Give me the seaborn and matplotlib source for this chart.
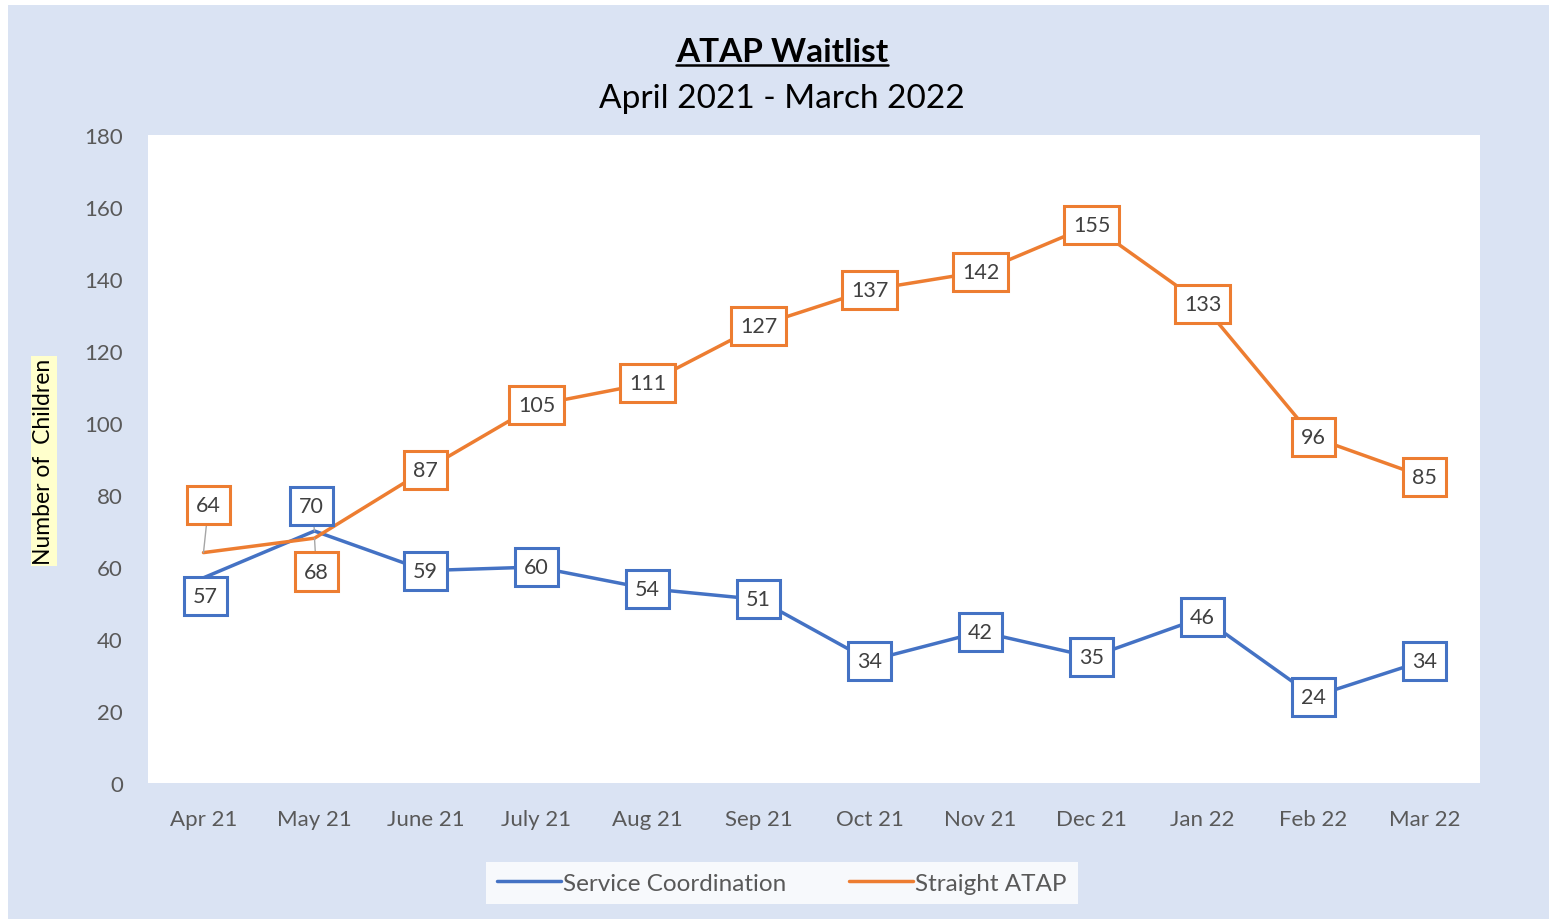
import matplotlib
matplotlib.use("Agg")
import matplotlib.pyplot as plt
from matplotlib.patches import Rectangle
from matplotlib.lines import Line2D
import seaborn as sns
import pandas as pd

months = ["Apr 21", "May 21", "June 21", "July 21", "Aug 21", "Sep 21",
          "Oct 21", "Nov 21", "Dec 21", "Jan 22", "Feb 22", "Mar 22"]
service_coord = [57, 70, 59, 60, 54, 51, 34, 42, 35, 46, 24, 34]
straight_atap = [64, 68, 87, 105, 111, 127, 137, 142, 155, 133, 96, 85]
series_names = ["Service Coordination", "Straight ATAP"]

blue = "#4472C4"
orange = "#ED7D31"
text_gray = "#595959"

df = pd.DataFrame({
    "month": months * 2,
    "value": service_coord + straight_atap,
    "series": [series_names[0]] * len(months) + [series_names[1]] * len(months),
})

sns.set_theme(style="white")
plt.rcParams["font.family"] = ["Lato", "DejaVu Sans"]

fig = plt.figure(figsize=(15.49, 9.2), dpi=100)
fig.patch.set_facecolor("white")
# light blue chart panel
fig.patches.append(Rectangle((8 / 1549, 0), 1 - 8 / 1549, 1 - 6 / 920,
                             transform=fig.transFigure, facecolor="#DAE3F3",
                             edgecolor="none", zorder=-1))

ax = fig.add_axes([148 / 1549, 1 - 784 / 920, 1332 / 1549, 648 / 920])
ax.set_facecolor("white")

sns.lineplot(data=df, x="month", y="value", hue="series",
             palette=[blue, orange], linewidth=2.5, sort=False, ax=ax)

ax.set_xlim(-0.5, len(months) - 0.5)
ax.set_ylim(0, 180)
ax.set_yticks(range(0, 181, 20))
ax.tick_params(axis="both", length=0, labelsize=16, colors=text_gray)
ax.tick_params(axis="x", pad=19)
ax.tick_params(axis="y", pad=18)
for s in ax.spines.values():
    s.set_visible(False)
ax.set_xlabel("")
ax.set_ylabel("")

# data labels (offsets in points; first two months are nudged apart)
offsets = {
    (0, 0): (1.4, -13), (1, 0): (-2, 18),
    (0, 1): (3.6, 34), (1, 1): (1.4, -24),
}
for j, (vals, col) in enumerate([(service_coord, blue), (straight_atap, orange)]):
    for i, v in enumerate(vals):
        dx, dy = offsets.get((i, j), (0, 0))
        ax.annotate(str(v), xy=(i, v), xytext=(dx, dy), textcoords="offset points",
                    ha="center", va="center", fontsize=15.5, color="#404040",
                    bbox=dict(boxstyle="square,pad=0.42", fc="white", ec=col, lw=2.2),
                    arrowprops=dict(arrowstyle="-", color="#A6A6A6", lw=1,
                                    shrinkA=0, shrinkB=0),
                    zorder=5)

# y label with highlight
fig.text(44 / 1549, 1 - 462 / 920, "Number of  Children", rotation=90,
         ha="center", va="center", fontsize=16.5, color="black",
         bbox=dict(boxstyle="square,pad=0.1", fc="#FFFFCC", ec="none"))

# titles
title = fig.text(782 / 1549, 1 - 52 / 920, "ATAP Waitlist", ha="center", va="center",
                 fontsize=24, fontweight="bold", color="black")
fig.text(782 / 1549, 1 - 99 / 920, "April 2021 - March 2022", ha="center",
         va="center", fontsize=24, color="black")

# legend
handles = [Line2D([], [], color=blue, lw=2.5), Line2D([], [], color=orange, lw=2.5)]
if ax.get_legend() is not None:
    ax.get_legend().remove()
leg = fig.legend(handles, series_names, loc="center",
                 bbox_to_anchor=(782 / 1549, 1 - 884 / 920), ncol=2,
                 fontsize=17.5, frameon=True, fancybox=False, handlelength=2.6,
                 handletextpad=0.1, columnspacing=2.6, borderpad=0.45,
                 borderaxespad=0)
leg.get_frame().set_facecolor("white")
leg.get_frame().set_edgecolor("none")
for t in leg.get_texts():
    t.set_color(text_gray)

# underline the main title
fig.canvas.draw()
bb = title.get_window_extent().transformed(fig.transFigure.inverted())
fig.add_artist(Line2D([bb.x0, bb.x1], [bb.y0 + 0.001, bb.y0 + 0.001],
                      transform=fig.transFigure, color="black", lw=1.8))

fig.savefig("out.png", dpi=100)
